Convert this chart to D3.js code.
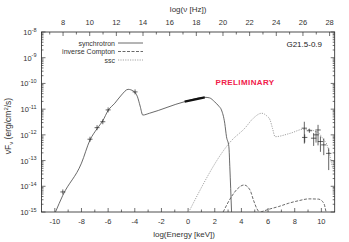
<!DOCTYPE html>
<meta charset="utf-8">
<style>
    body { margin: 0; background: white; }
    svg { display: block; font-family: "Liberation Sans", Arial, sans-serif; }
    .tick-label { font-size: 7.5px; fill: #333; }
</style>
<svg width="349" height="242"></svg>
<script src="https://cdn.jsdelivr.net/npm/d3@7"></script>
<script>
    // log(E/keV) vs log(nuFnu)
    var syncE    = [-9.95, -9.4, -8, -7.36, -6.83, -6.4, -6, -5.5, -5, -4.5, -4.1, -3.8, -3.6, -3.4, -2.9, -0.26, 1.25, 1.6, 2.0, 2.3, 2.5, 2.75, 2.88, 3.06, 3.13, 3.26];
    var syncLogF = [-15, -14.35, -13.1, -12.2, -11.76, -11.45, -11.05, -10.77, -10.45, -10.23, -10.3, -10.52, -10.88, -11.23, -11.16, -10.71, -10.54, -10.56, -10.72, -10.88, -11.03, -11.55, -12.07, -12.46, -13.24, -15];

    var icE    = [2.63, 3.26, 3.7, 4.2, 4.64, 4.9, 5.15, 5.32];
    var icLogF = [-15, -14.4, -14.1, -13.95, -14.14, -14.53, -14.86, -15];
    var ic2E    = [5.45, 6.15, 6.78, 7.54, 8.3, 9.05, 9.8, 10.18, 10.35];
    var ic2LogF = [-15, -14.88, -14.79, -14.66, -14.56, -14.49, -14.5, -14.66, -15];

    var sscE    = [0.05, 3.26, 4.26, 4.9, 5.52, 5.9, 6.15, 6.33, 6.53, 7.66, 8.67, 9.68, 10.18, 10.43, 10.68, 10.85];
    var sscLogF = [-15, -12.22, -11.74, -11.35, -11.16, -11.26, -11.42, -11.74, -12.07, -11.94, -11.78, -11.88, -12.2, -12.39, -12.91, -13.3];

    // x-ray spectrum segment (thick)
    var xrayE    = [-0.26, 1.25];
    var xrayLogF = [-10.71, -10.54];

    // radio / IR points
    var lowE    = [-9.4, -7.36, -6.83, -6.4, -6.0, -3.98];
    var lowLogF = [-14.22, -12.17, -11.72, -11.49, -11.03, -10.33];

    // gamma-ray points with errors
    var gamE     = [8.72, 9.1, 8.75, 9.42, 9.75, 9.6, 9.93, 10.18, 10.55];
    var gamLogF  = [-11.74, -11.84, -12.1, -12.13, -11.81, -12.0, -12.26, -12.39, -12.72];
    var gamErrHi = [0.25, 0.08, 0.12, 0.2, 0.2, 0.15, 0.2, 0.25, 0.2];
    var gamErrLo = [0.6, 0.08, 0.2, 0.3, 0.6, 0.3, 0.4, 0.4, 0.65];

    var bottomTicks = d3.range(-10, 11, 2);
    var topTicks = d3.range(8, 29, 2);
    var yTicks = d3.range(-15, -7);
    var legendNames = ["synchrotron", "inverse Compton", "ssc"];

    var svg = d3.select("svg"),
        margin = {left: 41.5, right: 14.3, top: 32, bottom: 30},
        width = +svg.attr("width"),
        height = +svg.attr("height");

    var x = d3.scaleLinear().domain([-11, 11]).range([margin.left, width - margin.right]);
    var y = d3.scaleLinear().domain([-15, -8]).range([height - margin.bottom, margin.top]);
    var nuOffset = 17.383; // log(Hz) of 1 keV

    var lineCol = "#444";

    // frame
    svg.append("rect")
        .attr("x", x(-11)).attr("y", y(-8))
        .attr("width", x(11) - x(-11)).attr("height", y(-15) - y(-8))
        .attr("fill", "none").attr("stroke", "#222").attr("stroke-width", 0.8);

    var ticks = svg.append("g").attr("stroke", "#333").attr("stroke-width", 0.7);

    // bottom ticks
    d3.range(-11, 12, 1).forEach(function(v) {
        if (v <= -11 || v >= 11) return;
        var len = v % 2 === 0 ? 4 : 2.5;
        ticks.append("line").attr("x1", x(v)).attr("x2", x(v))
            .attr("y1", y(-15)).attr("y2", y(-15) - len);
    });
    bottomTicks.forEach(function(v) {
        svg.append("text").attr("class", "tick-label")
            .attr("x", x(v)).attr("y", y(-15) + 12)
            .attr("text-anchor", "middle").text(v);
    });

    // top ticks (log nu)
    d3.range(7, 29, 1).forEach(function(v) {
        var xe = x(v - nuOffset);
        if (xe <= x(-11) || xe >= x(11)) return;
        var len = v % 2 === 0 ? 4 : 2.5;
        ticks.append("line").attr("x1", xe).attr("x2", xe)
            .attr("y1", y(-8)).attr("y2", y(-8) + len);
    });
    topTicks.forEach(function(v) {
        svg.append("text").attr("class", "tick-label")
            .attr("x", x(v - nuOffset)).attr("y", y(-8) - 7)
            .attr("text-anchor", "middle").text(v);
    });

    // y ticks with log minors, both sides
    yTicks.forEach(function(p) {
        [x(-11), x(11)].forEach(function(xe, side) {
            var dir = side === 0 ? 1 : -1;
            ticks.append("line").attr("x1", xe).attr("x2", xe + dir * 4)
                .attr("y1", y(p)).attr("y2", y(p));
            if (p < -8) {
                d3.range(2, 10).forEach(function(m) {
                    var yy = y(p + Math.log10(m));
                    ticks.append("line").attr("x1", xe).attr("x2", xe + dir * 2)
                        .attr("y1", yy).attr("y2", yy);
                });
            }
        });
        var t = svg.append("text").attr("class", "tick-label")
            .attr("x", x(-11) - 5).attr("y", y(p) + 3)
            .attr("text-anchor", "end");
        t.append("tspan").text("10");
        t.append("tspan").attr("dy", -3.5).style("font-size", "5.5px").text(p);
    });

    // axis titles
    svg.append("text").attr("class", "tick-label").style("font-size", "8px")
        .attr("x", (x(-11) + x(11)) / 2 - 4).attr("y", 237)
        .attr("text-anchor", "middle").text("log(Energy [keV])");
    svg.append("text").attr("class", "tick-label").style("font-size", "8px")
        .attr("x", (x(-11) + x(11)) / 2).attr("y", 12)
        .attr("text-anchor", "middle").text("log(\u03bd [Hz])");

    var yl = svg.append("text").attr("class", "tick-label").style("font-size", "8.5px")
        .attr("transform", "translate(11," + ((y(-8) + y(-15)) / 2 + 4) + ") rotate(-90)")
        .attr("text-anchor", "middle");
    yl.append("tspan").text("\u03bdF");
    yl.append("tspan").attr("dy", 2).style("font-size", "6px").text("\u03bd");
    yl.append("tspan").attr("dy", -2).text(" (erg/cm");
    yl.append("tspan").attr("dy", -3).style("font-size", "6px").text("2");
    yl.append("tspan").attr("dy", 3).text("/s)");

    var line = d3.line()
        .x(function(d) { return x(d[0]); })
        .y(function(d) { return y(d[1]); })
        .curve(d3.curveMonotoneX);

    svg.append("clipPath").attr("id", "clip").append("rect")
        .attr("x", x(-11)).attr("y", y(-8))
        .attr("width", x(11) - x(-11)).attr("height", y(-15) - y(-8));
    var plot = svg.append("g").attr("clip-path", "url(#clip)");

    function zipArr(a, b) { return a.map(function(v, i) { return [v, b[i]]; }); }

    plot.append("path").datum(zipArr(sscE, sscLogF))
        .attr("d", line).attr("fill", "none")
        .attr("stroke", "#999").attr("stroke-width", 0.9).attr("stroke-dasharray", "1.2,1.2");

    [zipArr(icE, icLogF), zipArr(ic2E, ic2LogF)].forEach(function(d) {
        plot.append("path").datum(d)
            .attr("d", line).attr("fill", "none")
            .attr("stroke", lineCol).attr("stroke-width", 0.8).attr("stroke-dasharray", "3,1.5");
    });

    plot.append("path").datum(zipArr(syncE, syncLogF))
        .attr("d", line).attr("fill", "none")
        .attr("stroke", lineCol).attr("stroke-width", 0.8);

    plot.append("path").datum(zipArr(xrayE, xrayLogF))
        .attr("d", d3.line().x(function(d) { return x(d[0]); }).y(function(d) { return y(d[1]); }))
        .attr("stroke", "#111").attr("stroke-width", 2.4);

    // data crosses
    var pts = plot.append("g").attr("stroke", "#222").attr("stroke-width", 0.7);
    lowE.forEach(function(e, i) {
        var cx = x(e), cy = y(lowLogF[i]);
        pts.append("line").attr("x1", cx - 2.5).attr("x2", cx + 2.5).attr("y1", cy).attr("y2", cy);
        pts.append("line").attr("x1", cx).attr("x2", cx).attr("y1", cy - 2.5).attr("y2", cy + 2.5);
    });
    gamE.forEach(function(e, i) {
        var cx = x(e), cy = y(gamLogF[i]);
        pts.append("line").attr("x1", x(e - 0.2)).attr("x2", x(e + 0.2)).attr("y1", cy).attr("y2", cy);
        pts.append("line").attr("x1", cx).attr("x2", cx)
            .attr("y1", y(gamLogF[i] + gamErrHi[i])).attr("y2", y(gamLogF[i] - gamErrLo[i]));
    });

    // legend
    var leg = svg.append("g");
    legendNames.forEach(function(name, i) {
        var ly = 43 + i * 8.5;
        leg.append("text").attr("x", 115).attr("y", ly + 2.5)
            .attr("text-anchor", "end").style("font-size", "7px").attr("fill", "#333").text(name);
        var l = leg.append("line").attr("x1", 118).attr("x2", 143).attr("y1", ly).attr("y2", ly)
            .attr("fill", "none");
        if (i === 0) l.attr("stroke", lineCol).attr("stroke-width", 0.8);
        if (i === 1) l.attr("stroke", lineCol).attr("stroke-width", 0.8).attr("stroke-dasharray", "3,1.5");
        if (i === 2) l.attr("stroke", "#999").attr("stroke-width", 0.9).attr("stroke-dasharray", "1.2,1.2");
    });

    svg.append("text").attr("x", 322).attr("y", 46.5)
        .attr("text-anchor", "end").style("font-size", "8px").attr("fill", "#222").text("G21.5-0.9");

    svg.append("text").attr("x", 245).attr("y", 85)
        .attr("text-anchor", "middle").style("font-size", "8px").style("font-weight", "bold")
        .style("letter-spacing", "0.4px")
        .attr("fill", "#f0204a").text("PRELIMINARY");
</script>
